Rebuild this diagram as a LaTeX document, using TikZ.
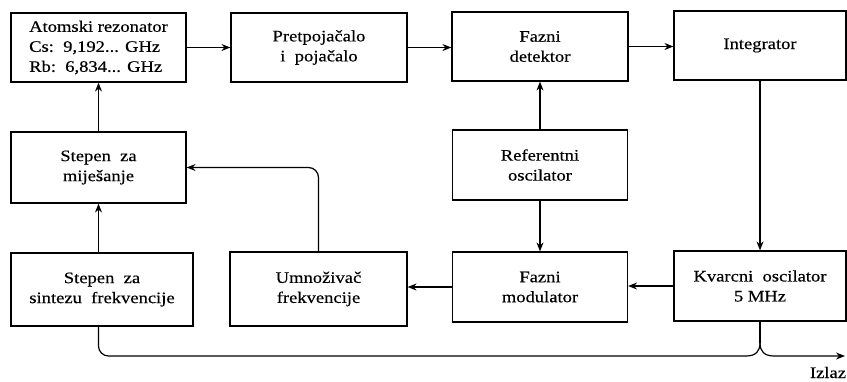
\documentclass[tikz,border=0pt]{standalone}
\usepackage{fontspec}
\setmainfont{Liberation Serif}[FakeStretch=1.16,FakeBold=0.4]
\usetikzlibrary{arrows.meta,calc}
\begin{document}
\begin{tikzpicture}[x=1pt,y=-1pt,
  font=\fontsize{16}{20}\selectfont,
  blk/.style={draw,line width=1.2pt,minimum width=175pt,minimum height=70pt,align=center,inner sep=2pt},
  conn/.style={line width=1.2pt},
  arr/.style={conn,-{Stealth[length=9pt,width=7pt,inset=3pt]}}]
\useasboundingbox (0,0) rectangle (847,381);
% top row
\node[blk,align=left,minimum height=69pt] (atom) at (98.5,47.5) {Atomski rezonator\\Cs:\ \ 9,192... GHz\\Rb:\ \ 6,834... GHz};
\node[blk,minimum width=176pt,minimum height=69pt] (pre) at (319,47.5) {Pretpojačalo\\i\ \ pojačalo};
\node[blk,minimum width=176pt,minimum height=69pt] (fdet) at (540,46.5) {Fazni\\detektor};
\node[blk,minimum width=172pt,minimum height=69pt] (integ) at (760,45.5) {Integrator};
% middle row
\node[blk,minimum height=71pt] (mix) at (98.5,167.5) {Stepen\ \ za\\miješanje};
\node[blk] (ref) at (540,165) {Referentni\\oscilator};
% bottom row
\node[blk,minimum width=182pt,minimum height=73pt] (sint) at (102,289.5) {Stepen\ \ za\\sintezu\ \ frekvencije};
\node[blk,minimum width=177pt,minimum height=74pt] (umn) at (318.5,289) {Umnoživač\\frekvencije};
\node[blk] (fmod) at (540,287) {Fazni\\modulator};
\node[blk,minimum width=172pt] (kvarc) at (760,286) {Kvarcni\ \ oscilator\\5 MHz};
% connectors
\draw[arr] (atom.east) -- (atom.east -| pre.west);
\draw[arr] (pre.east) -- (pre.east -| fdet.west);
\draw[arr] (fdet.east) -- (fdet.east -| integ.west);
\draw[arr] (integ.south) -- (kvarc.north);
\draw[arr] (ref.north) -- (fdet.south);
\draw[arr] (ref.south) -- (fmod.north);
\draw[arr] (kvarc.west) -- (kvarc.west -| fmod.east);
\draw[arr] (fmod.west) -- (fmod.west -| umn.east);
\draw[arr,rounded corners=10pt] (umn.north) |- (mix.east);
\draw[arr] (mix.south |- sint.north) -- (mix.south);
\draw[arr] (mix.north) -- (atom.south);
% output bus
\coordinate (j) at (760,343);
\coordinate (out) at (845,356);
\draw[conn,rounded corners=10pt] (mix.south |- sint.south) |- (746,356);
\draw[conn] (746,356) .. controls (756,356) and (760,351) .. (j);
\draw[conn] (kvarc.south) -- (j);
\draw[arr] (j) .. controls (760,351) and (764,356) .. (774,356) -- (out);
\node[inner sep=0pt,anchor=base] (izlaz) at (828,378) {Izlaz};
\end{tikzpicture}
\end{document}
